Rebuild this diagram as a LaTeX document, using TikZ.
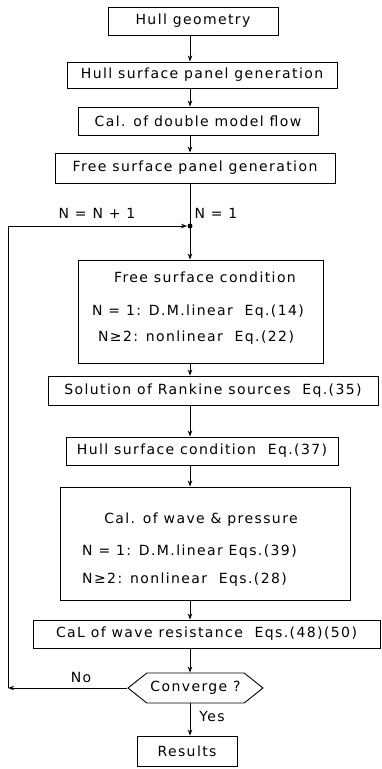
\documentclass[tikz,border=0pt]{standalone}
\usepackage{fontspec}
\setmainfont{DejaVu Sans}[LetterSpace=10]
\usetikzlibrary{arrows.meta,shapes.symbols}
\begin{document}
\begin{tikzpicture}[x=1pt,y=-1pt,
  box/.style={draw, line width=0.9pt, inner sep=0pt, font=\fontsize{14}{16}\selectfont},
  txt/.style={inner sep=0pt, font=\fontsize{14}{16}\selectfont},
  arr/.style={-{Stealth[length=6pt,width=4.5pt]}, line width=0.9pt},
  ln/.style={line width=0.9pt}]
\useasboundingbox (0,0) rectangle (382,769);

\node[box, minimum width=170pt, minimum height=28pt] (hull) at (193,21) {Hull geometry};
\node[box, minimum width=270pt, minimum height=26pt] (panel) at (202,75) {Hull surface panel generation};
\node[box, minimum width=240pt, minimum height=28pt] (dmf) at (198,121) {Cal. of double model flow};
\node[box, minimum width=280pt, minimum height=30pt] (fspg) at (195,168) {Free surface panel generation};

\coordinate (j) at (190,226);
\coordinate (lc) at (8,0);

\node[box, minimum width=245pt, minimum height=103pt] (fsc) at (200.5,311.5) {};
\node[txt] (fsc1) at (205,277) {Free surface condition};
\node[txt] (fsc2) at (198,312) {N = 1: D.M.linear\ \ Eq.(14)};
\node[txt] (fsc3) at (196,338) {N≥2: nonlinear\ \ Eq.(22)};

\node[box, minimum width=330pt, minimum height=29pt] (rank) at (213,390.5) {Solution of Rankine sources\ \ Eq.(35)};
\node[box, minimum width=272pt, minimum height=28pt] (hsc) at (202,451) {Hull surface condition\ \ Eq.(37)};

\node[box, minimum width=290pt, minimum height=113pt] (wave) at (205,543.5) {};
\node[txt] (wave1) at (201,520) {Cal. of wave \& pressure};
\node[txt, anchor=west] (wave2) at (82,552) {N = 1: D.M.linear Eqs.(39)};
\node[txt, anchor=west] (wave3) at (82,580) {N≥2: nonlinear\ \ Eqs.(28)};

\node[box, minimum width=347pt, minimum height=28pt] (res) at (206.5,634) {CaL of wave resistance\ \ Eqs.(48)(50)};

\node[box, signal, signal to=west and east, signal pointer angle=77, minimum width=135pt, minimum height=30pt] (conv) at (195.5,688) {Converge ?};

\node[box, minimum width=100pt, minimum height=30pt] (out) at (187,751) {Results};

\node[txt] (lnn) at (97,213) {N = N + 1};
\node[txt] (ln1) at (216,213) {N = 1};
\node[txt] (lno) at (81,677) {No};
\node[txt] (lyes) at (212,716) {Yes};

\draw[arr] (hull.south -| j) -- (panel.north -| j);
\draw[arr] (panel.south -| j) -- (dmf.north -| j);
\draw[arr] (dmf.south -| j) -- (fspg.north -| j);
\draw[ln] (fspg.south -| j) -- (j);
\fill (j) circle (2.5pt);
\draw[arr] (j) -- (fsc.north -| j);
\draw[arr] (fsc.south -| j) -- (rank.north -| j);
\draw[arr] (rank.south -| j) -- (hsc.north -| j);
\draw[arr] (hsc.south -| j) -- (wave.north -| j);
\draw[arr] (wave.south -| j) -- (res.north -| j);
\draw[arr] (res.south -| j) -- (conv.north -| j);
\draw[arr] (conv.south -| j) -- (out.north -| j);
\draw[arr] (conv.west) -- (conv.west -| lc);
\draw[arr, shorten >=3pt] (conv.west -| lc) |- (j);
\end{tikzpicture}
\end{document}
